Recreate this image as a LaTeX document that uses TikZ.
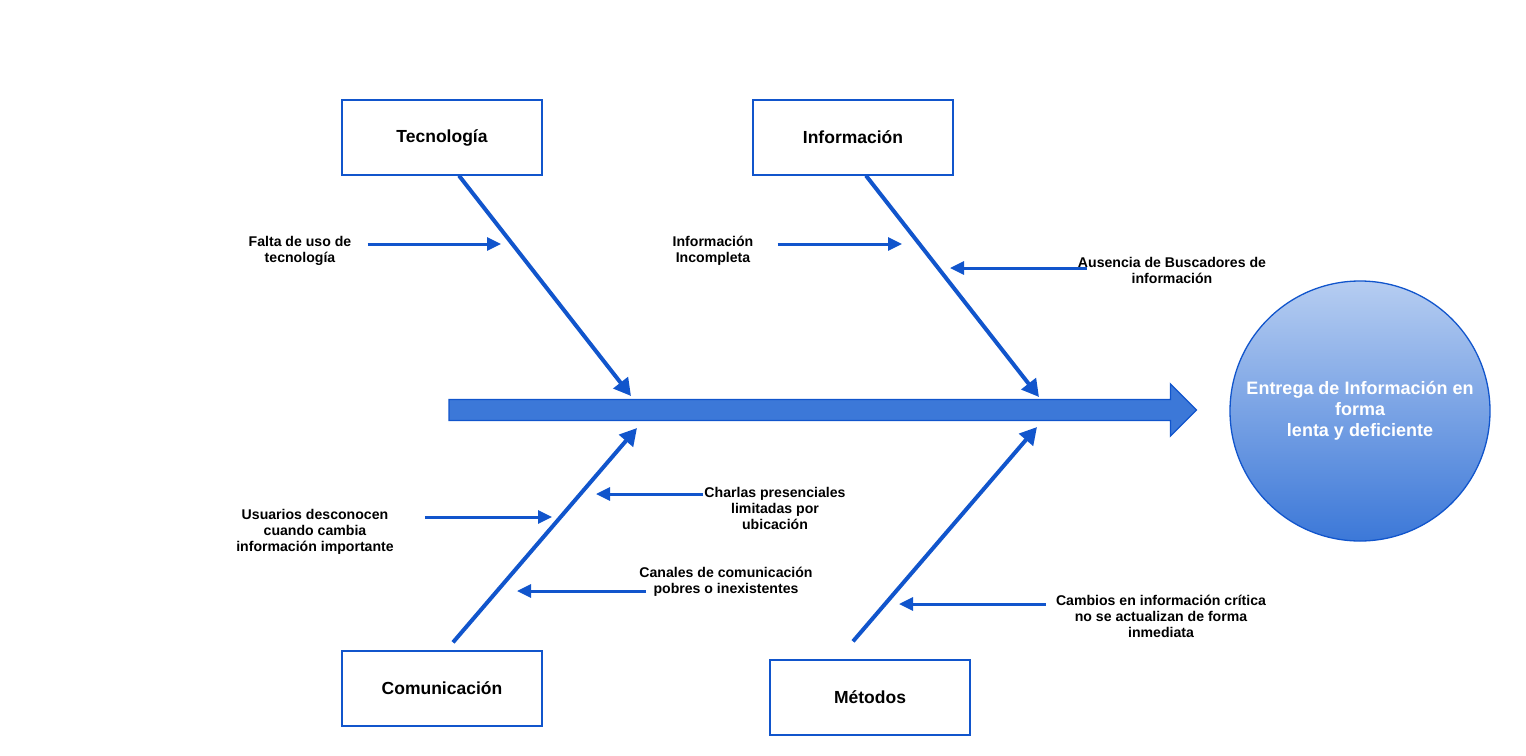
\documentclass[tikz,border=0pt]{standalone}
\usepackage{fontspec}
\setmainfont{Liberation Sans}
\usetikzlibrary{arrows.meta}
\definecolor{boneblue}{HTML}{1155CC}
\definecolor{spinefill}{HTML}{3C78D8}
\definecolor{effecttop}{RGB}{182,205,241}
\begin{document}
\begin{tikzpicture}[
    x=1pt, y=-1pt,
    category/.style={draw=boneblue, line width=1.3pt, minimum width=200pt, minimum height=75pt, font=\fontsize{17.5}{20}\selectfont\bfseries},
    cause/.style={align=center, inner sep=0pt, font=\fontsize{14.1}{16}\selectfont\bfseries},
    bone/.style={draw=boneblue, line width=4pt, -{Triangle[length=17pt,width=18pt]}},
    subcause/.style={draw=boneblue, line width=3pt, -{Triangle[length=14pt,width=13pt]}}
    ]
	\useasboundingbox (0,0) rectangle (1526,755);
	\node [category] (tec) at (442,137.5) {Tecnología};
	\node [category] (info) at (853,137.5) {Información};
	\node [category] (com) at (442,688.5) {Comunicación};
	\node [category] (met) at (870,697.5) {Métodos};
	\filldraw [fill=spinefill, draw=boneblue, line width=1.3pt]
		(449,399.5) -- (1170.5,399.5) -- (1170.5,384) -- (1196.5,410) -- (1170.5,436) -- (1170.5,420.5) -- (449,420.5) -- cycle;
	\node [circle, minimum size=260pt, draw=boneblue, line width=1.3pt, top color=effecttop, bottom color=spinefill,
		text=white, align=center, font=\fontsize{18}{21}\selectfont\bfseries] (effect) at (1360,411)
		{Entrega de Información en\\forma\\ lenta y deficiente};
	\coordinate (tecTip) at (631,396);
	\coordinate (infoTip) at (1039,397);
	\coordinate (comTip) at (637,428);
	\coordinate (metTip) at (1037,427);
	\draw [bone] ([xshift=17pt]tec.south) -- (tecTip);
	\draw [bone] ([xshift=13pt]info.south) -- (infoTip);
	\draw [bone] ([xshift=11pt,yshift=8pt]com.north) -- (comTip);
	\draw [bone] ([xshift=-17pt,yshift=18pt]met.north) -- (metTip);
	\node [cause] (falta) at (300,251) {Falta de uso de\\tecnología};
	\node [cause] (incompleta) at (713,251) {Información\\Incompleta};
	\node [cause] (ausencia) at (1172,270) {Ausencia de Buscadores de\\información};
	\node [cause] (usuarios) at (315,532) {Usuarios desconocen\\cuando cambia\\información importante};
	\node [cause] (charlas) at (775,508) {Charlas presenciales\\limitadas por\\ubicación};
	\node [cause] (canales) at (726,582) {Canales de comunicación\\pobres o inexistentes};
	\node [cause] (cambios) at (1161,616) {Cambios en información crítica\\no se actualizan de forma\\inmediata};
	\coordinate (faltaTip) at (501,244);
	\coordinate (incompletaTip) at (902,244);
	\coordinate (ausenciaTip) at (950,268);
	\coordinate (usuariosTip) at (552,517);
	\coordinate (charlasTip) at (596,494);
	\coordinate (canalesTip) at (517,591);
	\coordinate (cambiosTip) at (899,604);
	\draw [subcause, shorten <=16pt] (falta.east |- faltaTip) -- (faltaTip);
	\draw [subcause, shorten <=24pt] (incompleta.east |- incompletaTip) -- (incompletaTip);
	\draw [subcause, shorten <=-9pt] (ausencia.west |- ausenciaTip) -- (ausenciaTip);
	\draw [subcause, shorten <=31pt] (usuarios.east |- usuariosTip) -- (usuariosTip);
	\draw [subcause, shorten <=1pt] (charlas.west |- charlasTip) -- (charlasTip);
	\draw [subcause, shorten <=-7pt] (canales.west |- canalesTip) -- (canalesTip);
	\draw [subcause, shorten <=10pt] (cambios.west |- cambiosTip) -- (cambiosTip);
\end{tikzpicture}
\end{document}
